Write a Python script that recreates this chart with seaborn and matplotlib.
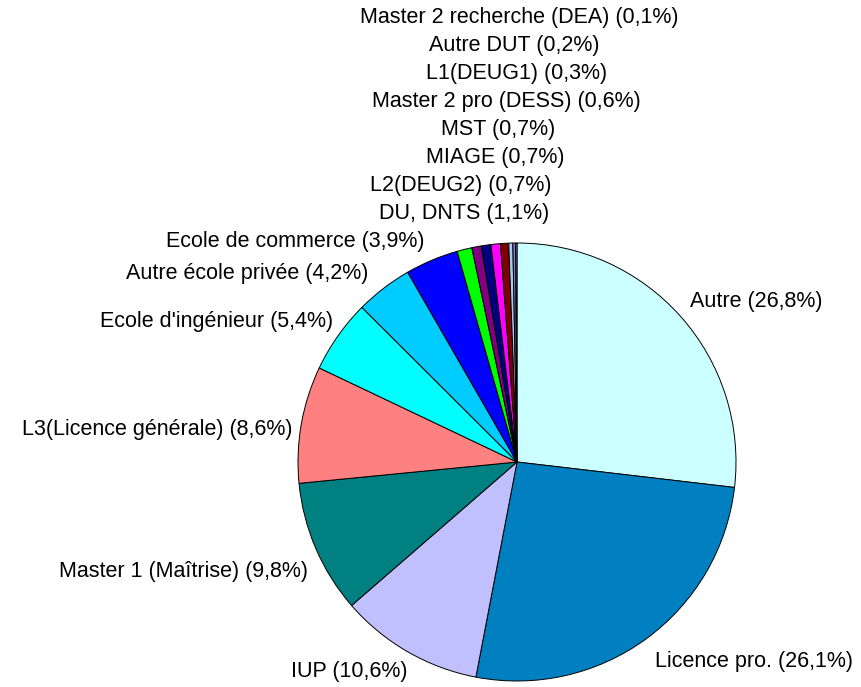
import matplotlib
matplotlib.use("Agg")
import matplotlib.pyplot as plt
import seaborn as sns

# Diplôme obtenu : parts en pourcentage
categories = [
    "Autre", "Licence pro.", "IUP", "Master 1 (Maîtrise)",
    "L3(Licence générale)", "Ecole d'ingénieur", "Autre école privée",
    "Ecole de commerce", "DU, DNTS", "L2(DEUG2)", "MIAGE", "MST",
    "Master 2 pro (DESS)", "L1(DEUG1)", "Autre DUT",
    "Master 2 recherche (DEA)",
]
shares = [26.8, 26.1, 10.6, 9.8, 8.6, 5.4, 4.2, 3.9, 1.1, 0.7, 0.7, 0.7,
          0.6, 0.3, 0.2, 0.1]
colors = [
    "#CCFFFF", "#0080C0", "#C0C0FF", "#008080", "#FF8080", "#00FFFF",
    "#00CCFF", "#0000FF", "#00FF00", "#800080", "#000080", "#FF00FF",
    "#800000", "#A6CAF0", "#7F7FD0", "#9999FF",
]

W, H = 861, 687
sns.set_theme(style="white")
plt.rcParams["font.family"] = ["Liberation Sans", "DejaVu Sans"]

fig = plt.figure(figsize=(W / 100, H / 100), dpi=100)
ax = fig.add_axes([0, 0, 1, 1])

cx, cy, r = 517, H - 462, 219
ax.pie(shares, colors=colors, startangle=90, counterclock=False,
       center=(cx, cy), radius=r, frame=True,
       wedgeprops=dict(edgecolor="black", linewidth=0.7))
ax.set_xlim(0, W)
ax.set_ylim(0, H)
ax.set_aspect("equal")
ax.axis("off")

# label anchors (pixel x, pixel y from top, horizontal alignment)
label_layout = [
    (690, 301, "left"), (655, 661, "left"), (349, 671, "center"),
    (308, 571, "right"), (293, 430, "right"), (333, 322, "right"),
    (368, 274, "right"), (425, 241, "right"), (464, 213, "center"),
    (461, 186, "center"), (495, 158, "center"), (498, 130, "center"),
    (506, 101, "center"), (517, 73, "center"), (514, 45, "center"),
    (519, 17, "center"),
]
for name, val, (lx, ly, ha) in zip(categories, shares, label_layout):
    pct = f"{val:.1f}".replace(".", ",")
    ax.text(lx, H - ly, f"{name} ({pct}%)", ha=ha, va="center",
            fontsize=15.5, color="black")

fig.savefig("out.png", dpi=100)
